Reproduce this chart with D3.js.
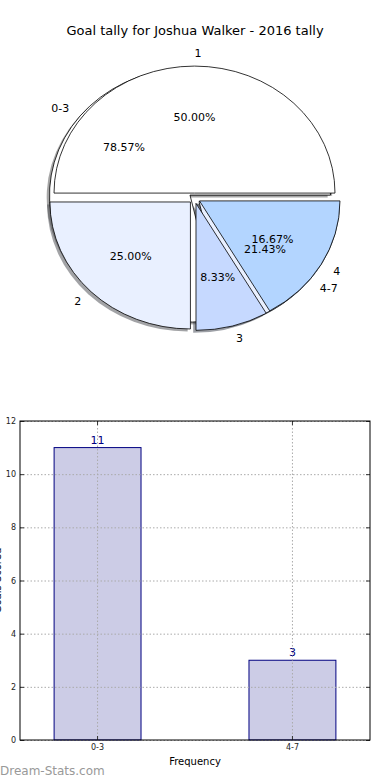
<!DOCTYPE html>
<html>
<head>
<meta charset="utf-8">
<script src="https://cdn.jsdelivr.net/npm/d3@7"></script>
<style>
  body { margin: 0; background: #fff; }
  svg { display: block; font-family: "DejaVu Sans", sans-serif; }
</style>
</head>
<body>
<svg id="chart" width="390" height="780"></svg>
<script>
var chartTitle = 'Goal tally for Joshua Walker - 2016 tally'
var rangeLabels = ['0-3', '4-7']
var rangeValues = [11, 3]
var goalLabels = ['1', '2', '3', '4']
var goalValues = [6, 3, 1, 2]
var pieColors = ['#ffffff', '#e9f0ff', '#c6d9ff', '#b3d5ff']
var yTicks = [0, 2, 4, 6, 8, 10, 12]

var svg = d3.select('#chart')

svg.append('text')
  .attr('x', 195).attr('y', 30).attr('dy', '0.35em')
  .attr('text-anchor', 'middle')
  .attr('font-size', 13)
  .text(chartTitle)

// ---- pie (two pies drawn on the same axes, matplotlib style) ----
var cx = 194.5, cy = 198.3, rx = 140.5, ry = 127
var explode = 0.041

var pie = d3.pie().sort(null)
  .startAngle(Math.PI / 2)
  .endAngle(Math.PI / 2 - 2 * Math.PI)
var arc = d3.arc().innerRadius(0).outerRadius(1)

function wedges(labels, values) {
  var total = d3.sum(values)
  return pie(values).map(function (d, i) {
    var mid = (d.startAngle + d.endAngle) / 2
    return {
      label: labels[i],
      pct: d.value / total * 100,
      arc: d,
      dx: Math.sin(mid),
      dy: -Math.cos(mid),
      color: pieColors[i % pieColors.length]
    }
  })
}

var outer = wedges(rangeLabels, rangeValues)
var inner = wedges(goalLabels, goalValues)
var all = outer.concat(inner)

var pg = svg.append('g')
  .attr('transform', 'translate(' + cx + ',' + cy + ') scale(' + rx + ',' + ry + ')')

// shadows first (lower zorder), then wedges in order
pg.selectAll('.shadow')
  .data(all)
  .enter().append('path')
  .attr('class', 'shadow')
  .attr('d', function (d) { return arc(d.arc) })
  .attr('transform', function (d) {
    return 'translate(' + (explode * d.dx - 0.02) + ',' + (explode * d.dy + 0.02) + ')'
  })
  .attr('fill', function (d) {
    var c = d3.rgb(d.color)
    return d3.rgb(c.r * 0.3, c.g * 0.3, c.b * 0.3)
  })
  .attr('fill-opacity', 0.5)

pg.selectAll('.wedge')
  .data(all)
  .enter().append('path')
  .attr('class', 'wedge')
  .attr('d', function (d) { return arc(d.arc) })
  .attr('transform', function (d) {
    return 'translate(' + explode * d.dx + ',' + explode * d.dy + ')'
  })
  .attr('fill', function (d) { return d.color })
  .attr('stroke', '#000')
  .attr('stroke-width', 0.8)
  .attr('vector-effect', 'non-scaling-stroke')

var lg = svg.append('g').attr('font-size', 11)

lg.selectAll('.plabel')
  .data(all)
  .enter().append('text')
  .attr('x', function (d) { return cx + rx * (explode + 1.1) * d.dx })
  .attr('y', function (d) { return cy + ry * (explode + 1.1) * d.dy })
  .attr('dy', '0.35em')
  .attr('text-anchor', function (d) { return d.dx > -1e-9 ? 'start' : 'end' })
  .text(function (d) { return d.label })

lg.selectAll('.pct')
  .data(all)
  .enter().append('text')
  .attr('x', function (d) { return cx + rx * (explode + 0.6) * d.dx })
  .attr('y', function (d) { return cy + ry * (explode + 0.6) * d.dy })
  .attr('dy', '0.35em')
  .attr('text-anchor', 'middle')
  .text(function (d) { return d.pct.toFixed(2) + '%' })

// ---- bar chart ----
var plotL = 20, plotR = 370, plotT = 421, plotB = 740

var x = d3.scaleBand().domain(rangeLabels).range([plotL, plotR])
  .paddingInner(0.554).paddingOuter(0.175)
var y = d3.scaleLinear().domain([0, 12]).range([plotB, plotT])

var bars = svg.append('g')
bars.selectAll('.bar')
  .data(rangeValues)
  .enter().append('rect')
  .attr('x', function (d, i) { return x(rangeLabels[i]) })
  .attr('y', function (d) { return y(d) })
  .attr('width', x.bandwidth())
  .attr('height', function (d) { return plotB - y(d) })
  .attr('fill', '#ccccE6')
  .attr('stroke', '#000080')
  .attr('stroke-width', 1)

bars.selectAll('.val')
  .data(rangeValues)
  .enter().append('text')
  .attr('x', function (d, i) { return x(rangeLabels[i]) + x.bandwidth() / 2 })
  .attr('y', function (d) { return y(d) - 4 })
  .attr('text-anchor', 'middle')
  .attr('font-size', 11)
  .attr('fill', '#000080')
  .text(function (d) { return d })

// grid on top of bars
var grid = svg.append('g')
  .attr('stroke', '#aaaaaa')
  .attr('stroke-width', 1)
  .attr('stroke-dasharray', '1.5,2')
grid.selectAll('.gy')
  .data(yTicks)
  .enter().append('line')
  .attr('x1', plotL).attr('x2', plotR)
  .attr('y1', function (d) { return y(d) + 0.5 })
  .attr('y2', function (d) { return y(d) + 0.5 })
grid.selectAll('.gx')
  .data(rangeLabels)
  .enter().append('line')
  .attr('y1', plotT).attr('y2', plotB)
  .attr('x1', function (d) { return x(d) + x.bandwidth() / 2 })
  .attr('x2', function (d) { return x(d) + x.bandwidth() / 2 })

function styleAxis(g) {
  g.select('.domain').remove()
  g.selectAll('.tick line').attr('stroke', '#333')
  g.selectAll('text').attr('font-family', '"DejaVu Sans", sans-serif').attr('fill', '#222')
}

svg.append('g')
  .attr('transform', 'translate(' + plotL + ',0)')
  .call(d3.axisLeft(y).tickValues(yTicks).tickSize(-4).tickPadding(4))
  .attr('font-size', 8)
  .call(styleAxis)

svg.append('g')
  .attr('transform', 'translate(' + plotR + ',0)')
  .call(d3.axisRight(y).tickValues(yTicks).tickSize(-4).tickFormat(''))
  .call(styleAxis)

svg.append('g')
  .attr('transform', 'translate(0,' + plotB + ')')
  .call(d3.axisBottom(x).tickSize(-4).tickPadding(4))
  .attr('font-size', 8)
  .call(styleAxis)

svg.append('g')
  .attr('transform', 'translate(0,' + plotT + ')')
  .call(d3.axisTop(x).tickSize(-4).tickFormat(''))
  .call(styleAxis)

svg.append('rect')
  .attr('x', plotL).attr('y', plotT)
  .attr('width', plotR - plotL).attr('height', plotB - plotT)
  .attr('fill', 'none')
  .attr('stroke', '#000')
  .attr('stroke-width', 1)

svg.append('text')
  .attr('x', 195).attr('y', 761).attr('dy', '0.35em')
  .attr('text-anchor', 'middle')
  .attr('font-size', 10)
  .text('Frequency')

svg.append('text')
  .attr('transform', 'translate(0.5,' + ((plotT + plotB) / 2) + ') rotate(-90)')
  .attr('text-anchor', 'middle')
  .attr('font-size', 10)
  .text('Goals Scored')

svg.append('text')
  .attr('x', 0).attr('y', 775)
  .attr('font-size', 12)
  .attr('fill', '#999')
  .text('Dream-Stats.com')
</script>
</body>
</html>
